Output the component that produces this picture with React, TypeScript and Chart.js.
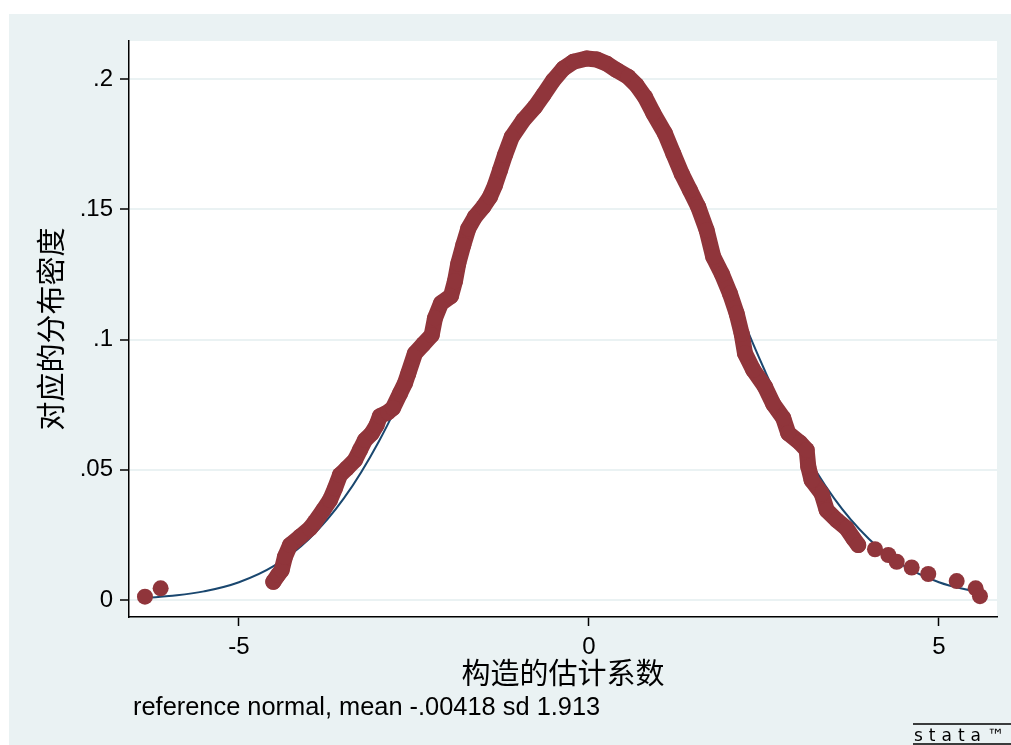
import React, { useEffect, useRef } from "react";
import { Chart, registerables } from "chart.js";

Chart.register(...registerables);

// Kernel-density points
const leftTailX = [-6.343, -6.119];
const leftTailY = [0.0013, 0.0045];

const bandX = [
  -4.51, -4.443, -4.39, -4.343, -4.271, -4.129, -3.986, -3.914, -3.796, -3.7,
  -3.629, -3.557, -3.461, -3.343, -3.271, -3.2, -3.104, -3.033, -2.986, -2.871,
  -2.8, -2.7, -2.629, -2.581, -2.486, -2.367, -2.247, -2.2, -2.114, -1.971,
  -1.914, -1.867, -1.796, -1.724, -1.629, -1.51, -1.414, -1.343, -1.271, -1.2,
  -1.104, -0.939, -0.771, -0.653, -0.51, -0.367, -0.224, -0.033, 0.11, 0.253,
  0.396, 0.561, 0.681, 0.8, 0.919, 1.086, 1.204, 1.324, 1.443, 1.561,
  1.681, 1.776, 1.9, 2.014, 2.11, 2.181, 2.229, 2.347, 2.514, 2.633,
  2.776, 2.847, 3.014, 3.11, 3.133, 3.181, 3.324, 3.396, 3.539, 3.681,
  3.776, 3.847,
];
const bandY = [
  0.007, 0.0096, 0.0115, 0.0166, 0.0211, 0.0243, 0.0275, 0.03, 0.0345, 0.0384,
  0.0429, 0.048, 0.0505, 0.0537, 0.0576, 0.0614, 0.064, 0.0672, 0.0706, 0.0721,
  0.0737, 0.0793, 0.0832, 0.087, 0.0947, 0.0982, 0.1017, 0.1082, 0.1139, 0.1167,
  0.1224, 0.1292, 0.1362, 0.1426, 0.1471, 0.1509, 0.1548, 0.1592, 0.165, 0.1708,
  0.1777, 0.1842, 0.1893, 0.1938, 0.1995, 0.204, 0.2066, 0.2079, 0.2075, 0.2059,
  0.2034, 0.2008, 0.1976, 0.1931, 0.1869, 0.1791, 0.1714, 0.1637, 0.1573, 0.1509,
  0.142, 0.1317, 0.1251, 0.1177, 0.11, 0.1023, 0.0947, 0.0883, 0.0819, 0.0752,
  0.0698, 0.064, 0.0604, 0.0576, 0.0512, 0.046, 0.0409, 0.0345, 0.0307, 0.0275,
  0.0237, 0.0211,
];

const rightTailX = [4.086, 4.276, 4.396, 4.61, 4.847, 5.253, 5.524, 5.586];
const rightTailY = [0.0195, 0.0173, 0.0147, 0.0125, 0.01, 0.0073, 0.0045, 0.0015];

// Reference normal curve
const refX = [
  -6.3, -6, -5.5, -5, -4.5, -4, -3.5, -3, -2.5, -2, -1.5, -1, -0.5, 0,
  0.5, 1, 1.5, 2, 2.5, 3, 3.5, 4, 4.5, 5, 5.5, 5.55,
];
const refY = [
  0.00092, 0.00152, 0.00334, 0.00685, 0.01311, 0.02344, 0.0391, 0.061, 0.0888, 0.1208,
  0.1534, 0.1819, 0.2015, 0.2085, 0.2015, 0.1819, 0.1534, 0.1208, 0.0888, 0.061,
  0.0391, 0.02344, 0.01311, 0.00685, 0.00334, 0.0031,
];

const xTicks = [-5, 0, 5];
const xTickLabels = ["-5", "0", "5"];
const yTicks = [0, 0.05, 0.1, 0.15, 0.2];
const yTickLabels = ["0", ".05", ".1", ".15", ".2"];

const xTitle = "构造的估计系数";
const yTitle = "对应的分布密度";
const noteText = "reference normal, mean -.00418 sd 1.913";
const logoText = "stata™";

const MAROON = "#90353B";
const NAVY = "#1A476F";
const PANEL = "#EAF2F3";
const LATIN = '"Liberation Sans", Arial, Helvetica, sans-serif';
const CJK = '"Noto Sans CJK SC", "Noto Sans", sans-serif';

const zip = (xs: number[], ys: number[]) => xs.map((x, i) => ({ x, y: ys[i] }));

const bgPlugin = {
  id: "stataBg",
  beforeDraw(chart: any) {
    const { ctx, chartArea: a } = chart;
    ctx.save();
    ctx.fillStyle = "#ffffff";
    ctx.fillRect(0, 0, chart.width, chart.height);
    ctx.fillStyle = PANEL;
    ctx.fillRect(9, 14, chart.width - 9, chart.height - 14);
    ctx.fillStyle = "#ffffff";
    ctx.fillRect(a.left, a.top, a.right - a.left, a.bottom - a.top);
    ctx.restore();
  },
  afterDraw(chart: any) {
    const { ctx } = chart;
    ctx.save();
    ctx.fillStyle = "#000";
    ctx.font = `25.4px ${LATIN}`;
    ctx.textAlign = "left";
    ctx.textBaseline = "middle";
    ctx.fillText(noteText, 133, 708);

    // Stata logo
    ctx.strokeStyle = "#000";
    ctx.lineWidth = 1.5;
    ctx.beginPath();
    ctx.moveTo(913, 724);
    ctx.lineTo(1011, 724);
    ctx.moveTo(913, 744);
    ctx.lineTo(1011, 744);
    ctx.stroke();
    ctx.font = `17px "DejaVu Sans", sans-serif`;
    (ctx as any).letterSpacing = "6px";
    ctx.textBaseline = "alphabetic";
    ctx.fillText(logoText, 914, 741);
    ctx.restore();
  },
};

export default function App() {
  const ref = useRef<HTMLCanvasElement | null>(null);

  useEffect(() => {
    if (!ref.current) return;
    const chart = new Chart(ref.current, {
      type: "scatter",
      data: {
        datasets: [
          {
            label: "tails-left",
            data: zip(leftTailX, leftTailY),
            pointRadius: 8,
            pointBackgroundColor: MAROON,
            pointBorderWidth: 0,
            showLine: false,
          },
          {
            label: "tails-right",
            data: zip(rightTailX, rightTailY),
            pointRadius: 8,
            pointBackgroundColor: MAROON,
            pointBorderWidth: 0,
            showLine: false,
          },
          {
            label: "density",
            data: zip(bandX, bandY),
            pointRadius: 8,
            pointBackgroundColor: MAROON,
            pointBorderWidth: 0,
            showLine: true,
            borderColor: MAROON,
            borderWidth: 16,
            borderJoinStyle: "round",
            borderCapStyle: "round",
            tension: 0,
          },
          {
            label: "normal",
            data: zip(refX, refY),
            pointRadius: 0,
            showLine: true,
            borderColor: NAVY,
            borderWidth: 2,
            tension: 0.4,
          },
        ] as any,
      },
      options: {
        animation: false,
        responsive: false,
        devicePixelRatio: 1,
        layout: { padding: { left: 0, top: 41, right: 14, bottom: 0 } },
        plugins: { legend: { display: false }, tooltip: { enabled: false } },
        events: [],
        scales: {
          x: {
            type: "linear",
            min: -6.571,
            max: 5.829,
            afterBuildTicks: (s: any) => {
              s.ticks = xTicks.map((v) => ({ value: v }));
            },
            afterFit: (s: any) => {
              s.height = 128;
            },
            grid: {
              drawOnChartArea: false,
              drawTicks: true,
              tickLength: 9,
              tickColor: "#000",
              tickWidth: 1.5,
            },
            border: { display: true, color: "#000", width: 1.5 },
            ticks: {
              color: "#000",
              font: { family: LATIN, size: 24 },
              padding: 7,
              maxRotation: 0,
              autoSkip: false,
              callback: (_v: any, i: number) => xTickLabels[i],
            },
            title: {
              display: true,
              text: xTitle,
              color: "#000",
              font: { family: CJK, size: 29 },
              padding: { top: 0, bottom: 55 },
            },
          },
          y: {
            type: "linear",
            min: -0.0065,
            max: 0.2146,
            afterBuildTicks: (s: any) => {
              s.ticks = yTicks.map((v) => ({ value: v }));
            },
            afterFit: (s: any) => {
              s.width = 129;
            },
            grid: {
              color: PANEL,
              lineWidth: 2,
              drawTicks: true,
              tickLength: 9,
              tickColor: "#000",
              tickWidth: 1.5,
            },
            border: { display: true, color: "#000", width: 1.5 },
            ticks: {
              color: "#000",
              font: { family: LATIN, size: 24 },
              padding: 7,
              autoSkip: false,
              callback: (_v: any, i: number) => yTickLabels[i],
            },
            title: {
              display: true,
              text: yTitle,
              color: "#000",
              font: { family: CJK, size: 29 },
              padding: { top: 34, bottom: 0 },
            },
          },
        },
      } as any,
      plugins: [bgPlugin],
    });
    return () => chart.destroy();
  }, []);

  return (
    <div style={{ position: "absolute", left: 0, top: 0, width: 1011, height: 745 }}>
      <canvas ref={ref} width={1011} height={745} style={{ display: "block", width: 1011, height: 745 }} />
    </div>
  );
}
